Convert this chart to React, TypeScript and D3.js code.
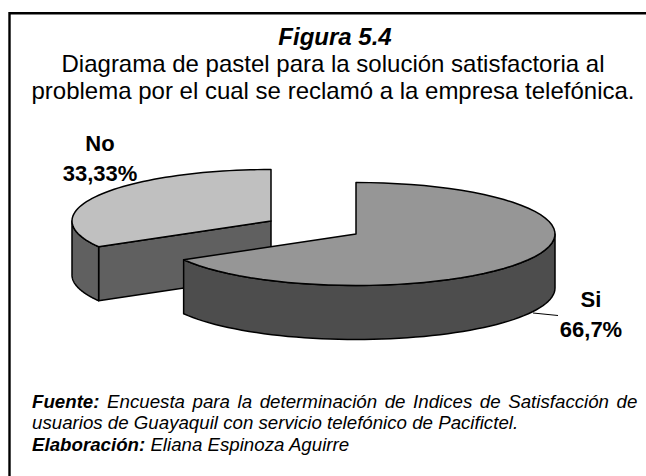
import React from "react";
import * as d3 from "d3";

const categories = ["Si", "No"];
const values = [66.67, 33.33];
const valueLabels = ["66,7%", "33,33%"];
const topColors = ["#969696", "#c0c0c0"];
const sideColors = ["#4d4d4d", "#606060"];
const titleLines = [
  "Diagrama de pastel para la solución satisfactoria al",
  "problema por el cual se reclamó a la empresa telefónica.",
];

const W = 646;
const H = 476;
const RX = 199;
const RY = 51.5;
const DEPTH = 54;
const centers = [
  { x: 356, y: 234 },
  { x: 271, y: 221 },
];
const FONT = "'Liberation Sans', Arial, sans-serif";

type P = [number, number];
const slices = d3.pie<number>().sort(null).startAngle(0).endAngle(2 * Math.PI)(values);
const line = d3.line<P>();

function pt(i: number, a: number, dy = 0): P {
  return [centers[i].x + RX * Math.sin(a), centers[i].y - RY * Math.cos(a) + dy];
}
function arcPts(i: number, a0: number, a1: number, dy = 0): P[] {
  const n = 60;
  return d3.range(n + 1).map((k) => pt(i, a0 + ((a1 - a0) * k) / n, dy));
}

function Slice({ i }: { i: number }) {
  const { startAngle: a0, endAngle: a1 } = slices[i];
  const c = centers[i];
  const top: P[] = [[c.x, c.y], ...arcPts(i, a0, a1)];
  const stroke = { stroke: "#000", strokeWidth: 1.5, strokeLinejoin: "round" as const };
  const wa0 = Math.max(a0, Math.PI / 2);
  const wa1 = Math.min(a1, (3 * Math.PI) / 2);
  const outer = [...arcPts(i, wa0, wa1), ...arcPts(i, wa1, wa0, DEPTH)];
  const isNo = i === 1;
  const cut: P[] = [
    [c.x, c.y],
    pt(i, a0),
    pt(i, a0, DEPTH),
    [c.x, c.y + DEPTH],
  ];
  const noWall = [...arcPts(i, a0, (3 * Math.PI) / 2), ...arcPts(i, (3 * Math.PI) / 2, a0, DEPTH)];
  return (
    <g>
      {isNo && <path d={line(cut)! + "Z"} fill={sideColors[i]} {...stroke} />}
      {isNo && <path d={line(noWall)! + "Z"} fill={sideColors[i]} {...stroke} />}
      {!isNo && <path d={line(outer)! + "Z"} fill={sideColors[i]} {...stroke} />}
      <path d={line(top)! + "Z"} fill={topColors[i]} {...stroke} />
    </g>
  );
}

export default function App() {
  return (
    <svg
      width={W}
      height={H}
      viewBox={`0 0 ${W} ${H}`}
      style={{ position: "absolute", left: 0, top: 0, background: "#fff" }}
      fontFamily={FONT}
    >
      <path d={`M9.5,${H} V13.3 H${W}`} fill="none" stroke="#000" strokeWidth={2.4} />
      <text x={335} y={45} textAnchor="middle" fontSize={24} fontWeight="bold" fontStyle="italic">
        Figura 5.4
      </text>
      <text x={333} y={72} textAnchor="middle" fontSize={24}>{titleLines[0]}</text>
      <text x={333} y={99} textAnchor="middle" fontSize={24}>{titleLines[1]}</text>

      <Slice i={1} />
      <Slice i={0} />

      <path d="M533,313 L558,315.5" fill="none" stroke="#000" strokeWidth={1} />
      <g fontSize={22} fontWeight="bold" textAnchor="middle">
        <text x={100} y={151}>{categories[1]}</text>
        <text x={100} y={181}>{valueLabels[1]}</text>
        <text x={591} y={307}>{categories[0]}</text>
        <text x={591} y={337}>{valueLabels[0]}</text>
      </g>

      <g fontSize={18.7} fontStyle="italic">
        <text x={32} y={408} wordSpacing={2.4}>
          <tspan fontWeight="bold">Fuente:</tspan> Encuesta para la determinación de Indices de Satisfacción de
        </text>
        <text x={32} y={429}>usuarios de Guayaquil con servicio telefónico de Pacifictel.</text>
        <text x={32} y={451}>
          <tspan fontWeight="bold">Elaboración:</tspan> Eliana Espinoza Aguirre
        </text>
      </g>
    </svg>
  );
}
